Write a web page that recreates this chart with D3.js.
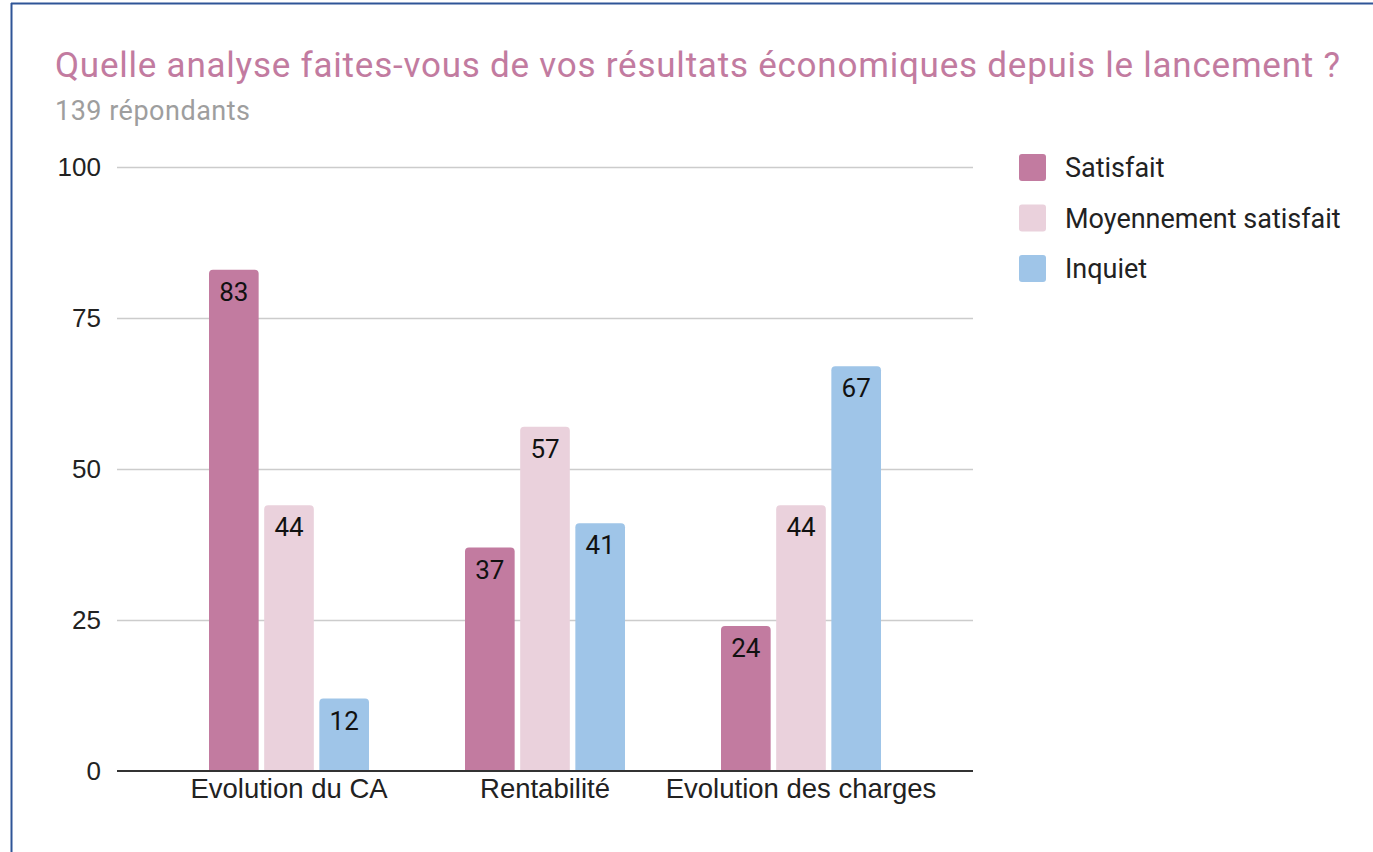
<!DOCTYPE html>
<html>
<head>
<meta charset="utf-8">
<script src="https://cdn.jsdelivr.net/npm/d3@7"></script>
<style>
  body { margin: 0; background: #fff; }
  svg { display: block; }
</style>
</head>
<body>
<div id="chart"></div>
<script>
// data
var categories = ["Evolution du CA", "Rentabilité", "Evolution des charges"];
var seriesNames = ["Satisfait", "Moyennement satisfait", "Inquiet"];
var satisfait = [83, 37, 24];
var moyennement = [44, 57, 44];
var inquiet = [12, 41, 67];
var yTicks = [0, 25, 50, 75, 100];
var colors = ["#c27ba0", "#ead1dc", "#9fc5e8"];

var seriesValues = [satisfait, moyennement, inquiet];
var rows = categories.map((c, i) => ({
    cat: c,
    vals: seriesNames.map((s, j) => ({key: s, value: seriesValues[j][i]}))
}));

var W = 1373, H = 852;
var svg = d3.select("#chart").append("svg")
    .attr("width", W).attr("height", H);

// frame (blue border from the screenshot)
svg.append("line").attr("x1", 11).attr("x2", W).attr("y1", 3.5).attr("y2", 3.5)
    .attr("stroke", "#2f5597").attr("stroke-width", 2);
svg.append("line").attr("x1", 11.5).attr("x2", 11.5).attr("y1", 3).attr("y2", H)
    .attr("stroke", "#2f5597").attr("stroke-width", 2);

// title
svg.append("text").attr("x", 55).attr("y", 77)
    .style("font-family", "Roboto").style("font-size", "35px")
    .attr("fill", "#c27ba0")
    .attr("textLength", 1285).attr("lengthAdjust", "spacing")
    .text("Quelle analyse faites-vous de vos résultats économiques depuis le lancement ?");
svg.append("text").attr("x", 55).attr("y", 120)
    .style("font-family", "Roboto").style("font-size", "27px")
    .attr("fill", "#9e9e9e")
    .attr("textLength", 195).attr("lengthAdjust", "spacing")
    .text("139 répondants");

var plot = {left: 117, right: 973, top: 167, bottom: 771};

var y = d3.scaleLinear().domain([0, 100]).range([plot.bottom, plot.top]);
var x0 = d3.scaleBand().domain(categories).range([161, 929])
    .paddingInner(0.375).paddingOuter(0.1875);
var x1 = d3.scaleBand().domain(seriesNames).range([0, x0.bandwidth()])
    .paddingInner(0.1);
var color = d3.scaleOrdinal().domain(seriesNames).range(colors);

// gridlines
svg.append("g").selectAll("line").data(yTicks.filter(d => d > 0)).enter()
    .append("line")
    .attr("x1", plot.left).attr("x2", plot.right)
    .attr("y1", d => y(d) + 0.5).attr("y2", d => y(d) + 0.5)
    .attr("stroke", "#cccccc").attr("stroke-width", 1.5);

// y labels
svg.append("g").selectAll("text").data(yTicks).enter()
    .append("text")
    .attr("x", 101).attr("y", d => y(d))
    .attr("dy", "0.36em")
    .attr("text-anchor", "end")
    .style("font-family", "Liberation Sans, Arial").style("font-size", "26px")
    .attr("fill", "#222")
    .text(d => d);

// bars with rounded top corners
function barPath(x, w, yTop, yBot, r) {
    r = Math.min(r, (yBot - yTop));
    return "M" + x + "," + yBot +
        "V" + (yTop + r) +
        "Q" + x + "," + yTop + " " + (x + r) + "," + yTop +
        "H" + (x + w - r) +
        "Q" + (x + w) + "," + yTop + " " + (x + w) + "," + (yTop + r) +
        "V" + yBot + "Z";
}

var groups = svg.append("g").selectAll("g").data(rows).enter()
    .append("g")
    .attr("transform", d => "translate(" + x0(d.cat) + ",0)");

groups.selectAll("path").data(d => d.vals).enter()
    .append("path")
    .attr("d", d => barPath(x1(d.key), x1.bandwidth(), y(d.value), y(0), 4))
    .attr("fill", d => color(d.key));

groups.selectAll("text").data(d => d.vals).enter()
    .append("text")
    .attr("x", d => x1(d.key) + x1.bandwidth() / 2)
    .attr("y", d => y(d.value) + 31)
    .attr("text-anchor", "middle")
    .style("font-family", "Roboto").style("font-size", "26px")
    .attr("fill", "#111")
    .text(d => d.value);

// baseline
svg.append("line").attr("x1", plot.left).attr("x2", plot.right)
    .attr("y1", y(0)).attr("y2", y(0))
    .attr("stroke", "#333").attr("stroke-width", 2);

// x labels
svg.append("g").selectAll("text").data(categories).enter()
    .append("text")
    .attr("x", d => x0(d) + x0.bandwidth() / 2)
    .attr("y", 798)
    .attr("text-anchor", "middle")
    .style("font-family", "Liberation Sans, Arial").style("font-size", "27.5px")
    .attr("fill", "#222")
    .text(d => d);

// legend
var legend = svg.append("g").selectAll("g").data(seriesNames).enter()
    .append("g")
    .attr("transform", (d, i) => "translate(1019," + (154 + i * 50.5) + ")");
legend.append("rect").attr("width", 27).attr("height", 27).attr("rx", 3)
    .attr("fill", d => color(d));
legend.append("text").attr("x", 46).attr("y", 13.5).attr("dy", "0.36em")
    .style("font-family", "Roboto").style("font-size", "27px")
    .attr("fill", "#222")
    .text(d => d);
</script>
</body>
</html>
